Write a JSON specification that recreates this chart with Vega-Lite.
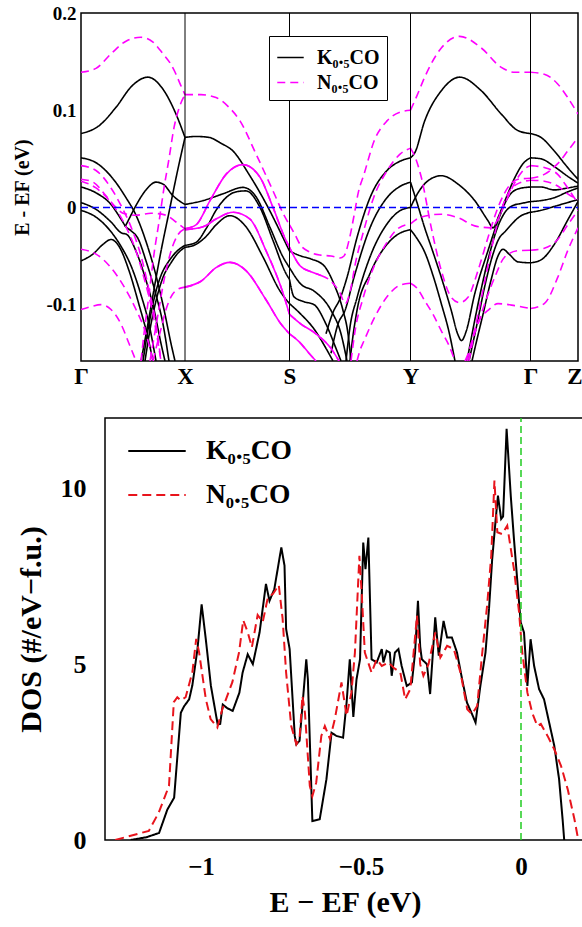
{
"$schema": "https://vega.github.io/schema/vega-lite/v6.json",
"padding": {"left": 12, "top": 3, "right": 0, "bottom": 0},
"spacing": 27,
"resolve": {"scale": {"color": "independent", "strokeDash": "independent"}, "legend": {"color": "independent", "strokeDash": "independent"}},
"config": {
  "font": "Liberation Serif",
  "view": {"stroke": "black", "strokeWidth": 1.5},
  "axis": {"grid": false, "domain": false, "labelFont": "Liberation Serif", "labelFontWeight": "bold", "labelColor": "black", "titleFont": "Liberation Serif", "titleFontWeight": "bold", "titleColor": "black", "tickColor": "black", "tickWidth": 1.5, "tickOpacity": 1, "labelFlush": false, "labelOverlap": false}
},
"datasets": {
"bands": [
{"k":0,"E":0.076,"b":"KGX1","m":"K0.5CO"},{"k":18,"E":0.084,"b":"KGX1","m":"K0.5CO"},{"k":35,"E":0.103,"b":"KGX1","m":"K0.5CO"},{"k":51,"E":0.125,"b":"KGX1","m":"K0.5CO"},{"k":67,"E":0.134,"b":"KGX1","m":"K0.5CO"},{"k":81,"E":0.123,"b":"KGX1","m":"K0.5CO"},{"k":95,"E":0.096,"b":"KGX1","m":"K0.5CO"},{"k":104,"E":0.072,"b":"KGX1","m":"K0.5CO"},
{"k":0,"E":0.051,"b":"KGX2","m":"K0.5CO"},{"k":15,"E":0.046,"b":"KGX2","m":"K0.5CO"},{"k":30,"E":0.032,"b":"KGX2","m":"K0.5CO"},{"k":45,"E":0.010,"b":"KGX2","m":"K0.5CO"},{"k":55,"E":-0.008,"b":"KGX2","m":"K0.5CO"},{"k":65,"E":-0.035,"b":"KGX2","m":"K0.5CO"},{"k":75,"E":-0.07,"b":"KGX2","m":"K0.5CO"},{"k":83,"E":-0.105,"b":"KGX2","m":"K0.5CO"},{"k":90,"E":-0.14,"b":"KGX2","m":"K0.5CO"},{"k":94,"E":-0.158,"b":"KGX2","m":"K0.5CO"},
{"k":0,"E":0.021,"b":"KGX3","m":"K0.5CO"},{"k":15,"E":0.015,"b":"KGX3","m":"K0.5CO"},{"k":30,"E":0.003,"b":"KGX3","m":"K0.5CO"},{"k":40,"E":-0.012,"b":"KGX3","m":"K0.5CO"},{"k":45,"E":-0.020,"b":"KGX3","m":"K0.5CO"},{"k":50,"E":-0.024,"b":"KGX3","m":"K0.5CO"},{"k":57,"E":-0.032,"b":"KGX3","m":"K0.5CO"},{"k":65,"E":-0.055,"b":"KGX3","m":"K0.5CO"},{"k":75,"E":-0.09,"b":"KGX3","m":"K0.5CO"},{"k":82,"E":-0.12,"b":"KGX3","m":"K0.5CO"},{"k":88,"E":-0.158,"b":"KGX3","m":"K0.5CO"},
{"k":0,"E":0.005,"b":"KGX4","m":"K0.5CO"},{"k":15,"E":-0.002,"b":"KGX4","m":"K0.5CO"},{"k":30,"E":-0.015,"b":"KGX4","m":"K0.5CO"},{"k":40,"E":-0.026,"b":"KGX4","m":"K0.5CO"},{"k":46,"E":-0.028,"b":"KGX4","m":"K0.5CO"},{"k":55,"E":-0.045,"b":"KGX4","m":"K0.5CO"},{"k":65,"E":-0.075,"b":"KGX4","m":"K0.5CO"},{"k":73,"E":-0.105,"b":"KGX4","m":"K0.5CO"},{"k":80,"E":-0.14,"b":"KGX4","m":"K0.5CO"},{"k":84,"E":-0.158,"b":"KGX4","m":"K0.5CO"},
{"k":0,"E":-0.003,"b":"KGX5","m":"K0.5CO"},{"k":15,"E":-0.010,"b":"KGX5","m":"K0.5CO"},{"k":30,"E":-0.025,"b":"KGX5","m":"K0.5CO"},{"k":40,"E":-0.040,"b":"KGX5","m":"K0.5CO"},{"k":50,"E":-0.060,"b":"KGX5","m":"K0.5CO"},{"k":60,"E":-0.09,"b":"KGX5","m":"K0.5CO"},{"k":68,"E":-0.12,"b":"KGX5","m":"K0.5CO"},{"k":75,"E":-0.158,"b":"KGX5","m":"K0.5CO"},
{"k":0,"E":-0.055,"b":"KGX6","m":"K0.5CO"},{"k":12,"E":-0.048,"b":"KGX6","m":"K0.5CO"},{"k":22,"E":-0.038,"b":"KGX6","m":"K0.5CO"},{"k":30,"E":-0.033,"b":"KGX6","m":"K0.5CO"},{"k":38,"E":-0.040,"b":"KGX6","m":"K0.5CO"},{"k":48,"E":-0.065,"b":"KGX6","m":"K0.5CO"},{"k":58,"E":-0.10,"b":"KGX6","m":"K0.5CO"},{"k":66,"E":-0.13,"b":"KGX6","m":"K0.5CO"},{"k":72,"E":-0.158,"b":"KGX6","m":"K0.5CO"},
{"k":44,"E":-0.020,"b":"KGX7","m":"K0.5CO"},{"k":48,"E":-0.012,"b":"KGX7","m":"K0.5CO"},{"k":55,"E":0.002,"b":"KGX7","m":"K0.5CO"},{"k":65,"E":0.018,"b":"KGX7","m":"K0.5CO"},{"k":75,"E":0.026,"b":"KGX7","m":"K0.5CO"},{"k":82,"E":0.024,"b":"KGX7","m":"K0.5CO"},{"k":92,"E":0.012,"b":"KGX7","m":"K0.5CO"},{"k":104,"E":0.003,"b":"KGX7","m":"K0.5CO"},
{"k":60,"E":-0.158,"b":"KGX8","m":"K0.5CO"},{"k":66,"E":-0.125,"b":"KGX8","m":"K0.5CO"},{"k":72,"E":-0.09,"b":"KGX8","m":"K0.5CO"},{"k":80,"E":-0.045,"b":"KGX8","m":"K0.5CO"},{"k":88,"E":-0.005,"b":"KGX8","m":"K0.5CO"},{"k":96,"E":0.035,"b":"KGX8","m":"K0.5CO"},{"k":104,"E":0.072,"b":"KGX8","m":"K0.5CO"},
{"k":62,"E":-0.158,"b":"KGX9","m":"K0.5CO"},{"k":68,"E":-0.12,"b":"KGX9","m":"K0.5CO"},{"k":74,"E":-0.09,"b":"KGX9","m":"K0.5CO"},{"k":80,"E":-0.07,"b":"KGX9","m":"K0.5CO"},{"k":88,"E":-0.055,"b":"KGX9","m":"K0.5CO"},{"k":96,"E":-0.045,"b":"KGX9","m":"K0.5CO"},{"k":104,"E":-0.039,"b":"KGX9","m":"K0.5CO"},
{"k":64,"E":-0.158,"b":"KGX10","m":"K0.5CO"},{"k":70,"E":-0.12,"b":"KGX10","m":"K0.5CO"},{"k":76,"E":-0.092,"b":"KGX10","m":"K0.5CO"},{"k":82,"E":-0.072,"b":"KGX10","m":"K0.5CO"},{"k":90,"E":-0.057,"b":"KGX10","m":"K0.5CO"},{"k":97,"E":-0.047,"b":"KGX10","m":"K0.5CO"},{"k":104,"E":-0.041,"b":"KGX10","m":"K0.5CO"},
{"k":0,"E":0.139,"b":"NGX1","m":"N0.5CO"},{"k":15,"E":0.143,"b":"NGX1","m":"N0.5CO"},{"k":30,"E":0.158,"b":"NGX1","m":"N0.5CO"},{"k":45,"E":0.171,"b":"NGX1","m":"N0.5CO"},{"k":60,"E":0.175,"b":"NGX1","m":"N0.5CO"},{"k":72,"E":0.170,"b":"NGX1","m":"N0.5CO"},{"k":82,"E":0.158,"b":"NGX1","m":"N0.5CO"},{"k":90,"E":0.147,"b":"NGX1","m":"N0.5CO"},{"k":95,"E":0.137,"b":"NGX1","m":"N0.5CO"},{"k":100,"E":0.125,"b":"NGX1","m":"N0.5CO"},{"k":104,"E":0.116,"b":"NGX1","m":"N0.5CO"},
{"k":60,"E":-0.158,"b":"NGX2","m":"N0.5CO"},{"k":63,"E":-0.13,"b":"NGX2","m":"N0.5CO"},{"k":68,"E":-0.09,"b":"NGX2","m":"N0.5CO"},{"k":73,"E":-0.048,"b":"NGX2","m":"N0.5CO"},{"k":78,"E":-0.015,"b":"NGX2","m":"N0.5CO"},{"k":83,"E":0.02,"b":"NGX2","m":"N0.5CO"},{"k":88,"E":0.05,"b":"NGX2","m":"N0.5CO"},{"k":93,"E":0.082,"b":"NGX2","m":"N0.5CO"},{"k":98,"E":0.102,"b":"NGX2","m":"N0.5CO"},{"k":104,"E":0.116,"b":"NGX2","m":"N0.5CO"},
{"k":0,"E":0.043,"b":"NGX3","m":"N0.5CO"},{"k":15,"E":0.038,"b":"NGX3","m":"N0.5CO"},{"k":30,"E":0.020,"b":"NGX3","m":"N0.5CO"},{"k":40,"E":0.002,"b":"NGX3","m":"N0.5CO"},{"k":50,"E":-0.02,"b":"NGX3","m":"N0.5CO"},{"k":60,"E":-0.05,"b":"NGX3","m":"N0.5CO"},{"k":68,"E":-0.085,"b":"NGX3","m":"N0.5CO"},{"k":75,"E":-0.12,"b":"NGX3","m":"N0.5CO"},{"k":80,"E":-0.158,"b":"NGX3","m":"N0.5CO"},
{"k":0,"E":0.029,"b":"NGX4","m":"N0.5CO"},{"k":12,"E":0.026,"b":"NGX4","m":"N0.5CO"},{"k":25,"E":0.012,"b":"NGX4","m":"N0.5CO"},{"k":35,"E":0.0,"b":"NGX4","m":"N0.5CO"},{"k":42,"E":-0.006,"b":"NGX4","m":"N0.5CO"},{"k":55,"E":-0.008,"b":"NGX4","m":"N0.5CO"},{"k":70,"E":-0.006,"b":"NGX4","m":"N0.5CO"},{"k":85,"E":-0.008,"b":"NGX4","m":"N0.5CO"},{"k":95,"E":-0.015,"b":"NGX4","m":"N0.5CO"},{"k":104,"E":-0.022,"b":"NGX4","m":"N0.5CO"},
{"k":0,"E":0.027,"b":"NGX5","m":"N0.5CO"},{"k":15,"E":0.020,"b":"NGX5","m":"N0.5CO"},{"k":30,"E":0.005,"b":"NGX5","m":"N0.5CO"},{"k":45,"E":-0.02,"b":"NGX5","m":"N0.5CO"},{"k":55,"E":-0.045,"b":"NGX5","m":"N0.5CO"},{"k":65,"E":-0.08,"b":"NGX5","m":"N0.5CO"},{"k":72,"E":-0.11,"b":"NGX5","m":"N0.5CO"},{"k":80,"E":-0.158,"b":"NGX5","m":"N0.5CO"},
{"k":0,"E":-0.043,"b":"NGX6","m":"N0.5CO"},{"k":15,"E":-0.048,"b":"NGX6","m":"N0.5CO"},{"k":30,"E":-0.062,"b":"NGX6","m":"N0.5CO"},{"k":45,"E":-0.085,"b":"NGX6","m":"N0.5CO"},{"k":55,"E":-0.105,"b":"NGX6","m":"N0.5CO"},{"k":65,"E":-0.13,"b":"NGX6","m":"N0.5CO"},{"k":72,"E":-0.158,"b":"NGX6","m":"N0.5CO"},
{"k":0,"E":-0.105,"b":"NGX7","m":"N0.5CO"},{"k":10,"E":-0.102,"b":"NGX7","m":"N0.5CO"},{"k":20,"E":-0.100,"b":"NGX7","m":"N0.5CO"},{"k":30,"E":-0.105,"b":"NGX7","m":"N0.5CO"},{"k":40,"E":-0.12,"b":"NGX7","m":"N0.5CO"},{"k":48,"E":-0.14,"b":"NGX7","m":"N0.5CO"},{"k":55,"E":-0.158,"b":"NGX7","m":"N0.5CO"},
{"k":69,"E":-0.158,"b":"NGX8","m":"N0.5CO"},{"k":72,"E":-0.14,"b":"NGX8","m":"N0.5CO"},{"k":77,"E":-0.11,"b":"NGX8","m":"N0.5CO"},{"k":83,"E":-0.075,"b":"NGX8","m":"N0.5CO"},{"k":90,"E":-0.045,"b":"NGX8","m":"N0.5CO"},{"k":97,"E":-0.028,"b":"NGX8","m":"N0.5CO"},{"k":104,"E":-0.022,"b":"NGX8","m":"N0.5CO"},
{"k":72,"E":-0.158,"b":"NGX9","m":"N0.5CO"},{"k":75,"E":-0.145,"b":"NGX9","m":"N0.5CO"},{"k":80,"E":-0.125,"b":"NGX9","m":"N0.5CO"},{"k":85,"E":-0.105,"b":"NGX9","m":"N0.5CO"},{"k":90,"E":-0.092,"b":"NGX9","m":"N0.5CO"},{"k":97,"E":-0.084,"b":"NGX9","m":"N0.5CO"},{"k":104,"E":-0.082,"b":"NGX9","m":"N0.5CO"},
{"k":104,"E":0.072,"b":"KXS1","m":"K0.5CO"},{"k":115,"E":0.073,"b":"KXS1","m":"K0.5CO"},{"k":128,"E":0.072,"b":"KXS1","m":"K0.5CO"},{"k":140,"E":0.066,"b":"KXS1","m":"K0.5CO"},{"k":152,"E":0.058,"b":"KXS1","m":"K0.5CO"},{"k":168,"E":0.034,"b":"KXS1","m":"K0.5CO"},{"k":185,"E":0.004,"b":"KXS1","m":"K0.5CO"},{"k":202,"E":-0.031,"b":"KXS1","m":"K0.5CO"},{"k":208.5,"E":-0.045,"b":"KXS1","m":"K0.5CO"},
{"k":104,"E":0.003,"b":"KXS2","m":"K0.5CO"},{"k":122,"E":0.007,"b":"KXS2","m":"K0.5CO"},{"k":142,"E":0.014,"b":"KXS2","m":"K0.5CO"},{"k":162,"E":0.0206,"b":"KXS2","m":"K0.5CO"},{"k":175,"E":0.011,"b":"KXS2","m":"K0.5CO"},{"k":189,"E":-0.0206,"b":"KXS2","m":"K0.5CO"},{"k":202,"E":-0.051,"b":"KXS2","m":"K0.5CO"},{"k":208.5,"E":-0.062,"b":"KXS2","m":"K0.5CO"},
{"k":104,"E":-0.039,"b":"KXS3","m":"K0.5CO"},{"k":115,"E":-0.036,"b":"KXS3","m":"K0.5CO"},{"k":125,"E":-0.022,"b":"KXS3","m":"K0.5CO"},{"k":135,"E":-0.003,"b":"KXS3","m":"K0.5CO"},{"k":145,"E":0.010,"b":"KXS3","m":"K0.5CO"},{"k":155,"E":0.016,"b":"KXS3","m":"K0.5CO"},{"k":165,"E":0.017,"b":"KXS3","m":"K0.5CO"},{"k":179,"E":0.0,"b":"KXS3","m":"K0.5CO"},{"k":192,"E":-0.034,"b":"KXS3","m":"K0.5CO"},{"k":205,"E":-0.068,"b":"KXS3","m":"K0.5CO"},{"k":208.5,"E":-0.074,"b":"KXS3","m":"K0.5CO"},
{"k":104,"E":-0.041,"b":"KXS4","m":"K0.5CO"},{"k":115,"E":-0.038,"b":"KXS4","m":"K0.5CO"},{"k":125,"E":-0.030,"b":"KXS4","m":"K0.5CO"},{"k":135,"E":-0.018,"b":"KXS4","m":"K0.5CO"},{"k":149,"E":-0.0085,"b":"KXS4","m":"K0.5CO"},{"k":165,"E":-0.02,"b":"KXS4","m":"K0.5CO"},{"k":182,"E":-0.051,"b":"KXS4","m":"K0.5CO"},{"k":199,"E":-0.086,"b":"KXS4","m":"K0.5CO"},{"k":208.5,"E":-0.099,"b":"KXS4","m":"K0.5CO"},
{"k":104,"E":0.116,"b":"NXS1","m":"N0.5CO"},{"k":120,"E":0.116,"b":"NXS1","m":"N0.5CO"},{"k":135,"E":0.113,"b":"NXS1","m":"N0.5CO"},{"k":147,"E":0.104,"b":"NXS1","m":"N0.5CO"},{"k":159,"E":0.089,"b":"NXS1","m":"N0.5CO"},{"k":175,"E":0.055,"b":"NXS1","m":"N0.5CO"},{"k":192,"E":0.017,"b":"NXS1","m":"N0.5CO"},{"k":203,"E":-0.008,"b":"NXS1","m":"N0.5CO"},{"k":208.5,"E":-0.018,"b":"NXS1","m":"N0.5CO"},
{"k":104,"E":-0.022,"b":"NXSa_s","m":"N0.5CO"},{"k":115,"E":-0.018,"b":"NXSa_s","m":"N0.5CO"},{"k":129,"E":0.007,"b":"NXSa_s","m":"N0.5CO"},{"k":145,"E":0.034,"b":"NXSa_s","m":"N0.5CO"},{"k":162,"E":0.044,"b":"NXSa_s","m":"N0.5CO"},{"k":179,"E":0.031,"b":"NXSa_s","m":"N0.5CO"},{"k":192,"E":0.0,"b":"NXSa_s","m":"N0.5CO"},{"k":205,"E":-0.034,"b":"NXSa_s","m":"N0.5CO"},{"k":208.5,"E":-0.041,"b":"NXSa_s","m":"N0.5CO"},
{"k":104,"E":-0.023,"b":"NXSb_s","m":"N0.5CO"},{"k":122,"E":-0.020,"b":"NXSb_s","m":"N0.5CO"},{"k":135,"E":-0.012,"b":"NXSb_s","m":"N0.5CO"},{"k":152,"E":-0.005,"b":"NXSb_s","m":"N0.5CO"},{"k":169,"E":-0.012,"b":"NXSb_s","m":"N0.5CO"},{"k":185,"E":-0.0445,"b":"NXSb_s","m":"N0.5CO"},{"k":202,"E":-0.088,"b":"NXSb_s","m":"N0.5CO"},{"k":208.5,"E":-0.11,"b":"NXSb_s","m":"N0.5CO"},
{"k":104,"E":-0.082,"b":"NXSc_s","m":"N0.5CO"},{"k":120,"E":-0.076,"b":"NXSc_s","m":"N0.5CO"},{"k":135,"E":-0.062,"b":"NXSc_s","m":"N0.5CO"},{"k":149,"E":-0.0565,"b":"NXSc_s","m":"N0.5CO"},{"k":165,"E":-0.065,"b":"NXSc_s","m":"N0.5CO"},{"k":185,"E":-0.095,"b":"NXSc_s","m":"N0.5CO"},{"k":200,"E":-0.12,"b":"NXSc_s","m":"N0.5CO"},{"k":208.5,"E":-0.13,"b":"NXSc_s","m":"N0.5CO"},
{"k":208.5,"E":-0.045,"b":"KSY1","m":"K0.5CO"},{"k":220,"E":-0.050,"b":"KSY1","m":"K0.5CO"},{"k":230,"E":-0.053,"b":"KSY1","m":"K0.5CO"},{"k":243,"E":-0.06,"b":"KSY1","m":"K0.5CO"},{"k":253,"E":-0.079,"b":"KSY1","m":"K0.5CO"},{"k":262,"E":-0.106,"b":"KSY1","m":"K0.5CO"},{"k":267,"E":-0.13,"b":"KSY1","m":"K0.5CO"},{"k":270,"E":-0.158,"b":"KSY1","m":"K0.5CO"},
{"k":208.5,"E":-0.062,"b":"KSY2","m":"K0.5CO"},{"k":220,"E":-0.079,"b":"KSY2","m":"K0.5CO"},{"k":233,"E":-0.086,"b":"KSY2","m":"K0.5CO"},{"k":250,"E":-0.106,"b":"KSY2","m":"K0.5CO"},{"k":260,"E":-0.13,"b":"KSY2","m":"K0.5CO"},{"k":266,"E":-0.158,"b":"KSY2","m":"K0.5CO"},
{"k":208.5,"E":-0.074,"b":"KSY3","m":"K0.5CO"},{"k":213,"E":-0.092,"b":"KSY3","m":"K0.5CO"},{"k":223,"E":-0.097,"b":"KSY3","m":"K0.5CO"},{"k":233,"E":-0.100,"b":"KSY3","m":"K0.5CO"},{"k":245,"E":-0.12,"b":"KSY3","m":"K0.5CO"},{"k":255,"E":-0.145,"b":"KSY3","m":"K0.5CO"},{"k":260,"E":-0.158,"b":"KSY3","m":"K0.5CO"},
{"k":208.5,"E":-0.099,"b":"KSY4","m":"K0.5CO"},{"k":220,"E":-0.11,"b":"KSY4","m":"K0.5CO"},{"k":233,"E":-0.125,"b":"KSY4","m":"K0.5CO"},{"k":245,"E":-0.145,"b":"KSY4","m":"K0.5CO"},{"k":252,"E":-0.158,"b":"KSY4","m":"K0.5CO"},
{"k":245,"E":-0.13,"b":"KSY5","m":"K0.5CO"},{"k":252,"E":-0.108,"b":"KSY5","m":"K0.5CO"},{"k":259,"E":-0.094,"b":"KSY5","m":"K0.5CO"},{"k":266,"E":-0.072,"b":"KSY5","m":"K0.5CO"},{"k":276,"E":-0.031,"b":"KSY5","m":"K0.5CO"},{"k":289,"E":0.010,"b":"KSY5","m":"K0.5CO"},{"k":306,"E":0.038,"b":"KSY5","m":"K0.5CO"},{"k":318,"E":0.047,"b":"KSY5","m":"K0.5CO"},{"k":329.5,"E":0.051,"b":"KSY5","m":"K0.5CO"},
{"k":250,"E":-0.15,"b":"KSY6","m":"K0.5CO"},{"k":257,"E":-0.12,"b":"KSY6","m":"K0.5CO"},{"k":264,"E":-0.106,"b":"KSY6","m":"K0.5CO"},{"k":273,"E":-0.072,"b":"KSY6","m":"K0.5CO"},{"k":289,"E":-0.021,"b":"KSY6","m":"K0.5CO"},{"k":306,"E":0.010,"b":"KSY6","m":"K0.5CO"},{"k":318,"E":0.021,"b":"KSY6","m":"K0.5CO"},{"k":329.5,"E":0.026,"b":"KSY6","m":"K0.5CO"},
{"k":265,"E":-0.158,"b":"KSY7","m":"K0.5CO"},{"k":269,"E":-0.123,"b":"KSY7","m":"K0.5CO"},{"k":276,"E":-0.093,"b":"KSY7","m":"K0.5CO"},{"k":289,"E":-0.051,"b":"KSY7","m":"K0.5CO"},{"k":306,"E":-0.017,"b":"KSY7","m":"K0.5CO"},{"k":318,"E":-0.004,"b":"KSY7","m":"K0.5CO"},{"k":329.5,"E":0.0,"b":"KSY7","m":"K0.5CO"},
{"k":269,"E":-0.158,"b":"KSY8","m":"K0.5CO"},{"k":271,"E":-0.14,"b":"KSY8","m":"K0.5CO"},{"k":276,"E":-0.106,"b":"KSY8","m":"K0.5CO"},{"k":289,"E":-0.068,"b":"KSY8","m":"K0.5CO"},{"k":306,"E":-0.038,"b":"KSY8","m":"K0.5CO"},{"k":318,"E":-0.027,"b":"KSY8","m":"K0.5CO"},{"k":329.5,"E":-0.023,"b":"KSY8","m":"K0.5CO"},
{"k":208.5,"E":-0.018,"b":"NSY1","m":"N0.5CO"},{"k":214,"E":-0.028,"b":"NSY1","m":"N0.5CO"},{"k":219,"E":-0.038,"b":"NSY1","m":"N0.5CO"},{"k":229,"E":-0.046,"b":"NSY1","m":"N0.5CO"},{"k":239,"E":-0.049,"b":"NSY1","m":"N0.5CO"},{"k":250,"E":-0.050,"b":"NSY1","m":"N0.5CO"},{"k":259,"E":-0.052,"b":"NSY1","m":"N0.5CO"},{"k":263,"E":-0.050,"b":"NSY1","m":"N0.5CO"},{"k":268,"E":-0.034,"b":"NSY1","m":"N0.5CO"},{"k":274,"E":-0.003,"b":"NSY1","m":"N0.5CO"},{"k":277,"E":0.014,"b":"NSY1","m":"N0.5CO"},{"k":283,"E":0.034,"b":"NSY1","m":"N0.5CO"},{"k":293,"E":0.068,"b":"NSY1","m":"N0.5CO"},{"k":306,"E":0.089,"b":"NSY1","m":"N0.5CO"},{"k":319,"E":0.098,"b":"NSY1","m":"N0.5CO"},{"k":329.5,"E":0.100,"b":"NSY1","m":"N0.5CO"},
{"k":208.5,"E":-0.041,"b":"NSYa_s","m":"N0.5CO"},{"k":219,"E":-0.06,"b":"NSYa_s","m":"N0.5CO"},{"k":232,"E":-0.067,"b":"NSYa_s","m":"N0.5CO"},{"k":240,"E":-0.07,"b":"NSYa_s","m":"N0.5CO"},
{"k":240,"E":-0.07,"b":"NSY2","m":"N0.5CO"},{"k":249,"E":-0.075,"b":"NSY2","m":"N0.5CO"},{"k":259,"E":-0.088,"b":"NSY2","m":"N0.5CO"},{"k":264.3,"E":-0.099,"b":"NSY2","m":"N0.5CO"},{"k":269.3,"E":-0.0856,"b":"NSY2","m":"N0.5CO"},{"k":274.3,"E":-0.058,"b":"NSY2","m":"N0.5CO"},{"k":282.7,"E":-0.024,"b":"NSY2","m":"N0.5CO"},{"k":292.7,"E":0.0103,"b":"NSY2","m":"N0.5CO"},{"k":306,"E":0.0377,"b":"NSY2","m":"N0.5CO"},{"k":319.3,"E":0.055,"b":"NSY2","m":"N0.5CO"},{"k":329.5,"E":0.061,"b":"NSY2","m":"N0.5CO"},
{"k":208.5,"E":-0.11,"b":"NSYb_s","m":"N0.5CO"},{"k":220,"E":-0.12,"b":"NSYb_s","m":"N0.5CO"},{"k":235,"E":-0.13,"b":"NSYb_s","m":"N0.5CO"},{"k":250,"E":-0.145,"b":"NSYb_s","m":"N0.5CO"},{"k":258,"E":-0.158,"b":"NSYb_s","m":"N0.5CO"},
{"k":208.5,"E":-0.13,"b":"NSYc_s","m":"N0.5CO"},{"k":218,"E":-0.138,"b":"NSYc_s","m":"N0.5CO"},{"k":228,"E":-0.15,"b":"NSYc_s","m":"N0.5CO"},{"k":235,"E":-0.158,"b":"NSYc_s","m":"N0.5CO"},
{"k":270,"E":-0.158,"b":"NSY4","m":"N0.5CO"},{"k":274.7,"E":-0.123,"b":"NSY4","m":"N0.5CO"},{"k":281.3,"E":-0.096,"b":"NSY4","m":"N0.5CO"},{"k":291.3,"E":-0.065,"b":"NSY4","m":"N0.5CO"},{"k":304.7,"E":-0.038,"b":"NSY4","m":"N0.5CO"},{"k":318,"E":-0.021,"b":"NSY4","m":"N0.5CO"},{"k":329.5,"E":-0.017,"b":"NSY4","m":"N0.5CO"},
{"k":276,"E":-0.158,"b":"NSY5","m":"N0.5CO"},{"k":279,"E":-0.147,"b":"NSY5","m":"N0.5CO"},{"k":282.7,"E":-0.138,"b":"NSY5","m":"N0.5CO"},{"k":292.7,"E":-0.115,"b":"NSY5","m":"N0.5CO"},{"k":306,"E":-0.092,"b":"NSY5","m":"N0.5CO"},{"k":319,"E":-0.080,"b":"NSY5","m":"N0.5CO"},{"k":329.5,"E":-0.078,"b":"NSY5","m":"N0.5CO"},
{"k":329.5,"E":0.051,"b":"KYG1","m":"K0.5CO"},{"k":333.7,"E":0.056,"b":"KYG1","m":"K0.5CO"},{"k":343.7,"E":0.089,"b":"KYG1","m":"K0.5CO"},{"k":360.3,"E":0.12,"b":"KYG1","m":"K0.5CO"},{"k":378.7,"E":0.134,"b":"KYG1","m":"K0.5CO"},{"k":400.3,"E":0.12,"b":"KYG1","m":"K0.5CO"},{"k":420.3,"E":0.096,"b":"KYG1","m":"K0.5CO"},{"k":437,"E":0.079,"b":"KYG1","m":"K0.5CO"},{"k":449.5,"E":0.076,"b":"KYG1","m":"K0.5CO"},
{"k":329.5,"E":0.0,"b":"KYG2","m":"K0.5CO"},{"k":337,"E":0.015,"b":"KYG2","m":"K0.5CO"},{"k":347,"E":0.0274,"b":"KYG2","m":"K0.5CO"},{"k":360.3,"E":0.0326,"b":"KYG2","m":"K0.5CO"},{"k":377,"E":0.024,"b":"KYG2","m":"K0.5CO"},{"k":393.7,"E":0.007,"b":"KYG2","m":"K0.5CO"},{"k":407,"E":-0.0137,"b":"KYG2","m":"K0.5CO"},{"k":412,"E":-0.021,"b":"KYG2","m":"K0.5CO"},{"k":418,"E":-0.008,"b":"KYG2","m":"K0.5CO"},{"k":424,"E":0.007,"b":"KYG2","m":"K0.5CO"},{"k":434,"E":0.031,"b":"KYG2","m":"K0.5CO"},{"k":442,"E":0.045,"b":"KYG2","m":"K0.5CO"},{"k":449.5,"E":0.051,"b":"KYG2","m":"K0.5CO"},
{"k":329.5,"E":0.026,"b":"KYG3","m":"K0.5CO"},{"k":336,"E":0.005,"b":"KYG3","m":"K0.5CO"},{"k":343.7,"E":-0.021,"b":"KYG3","m":"K0.5CO"},{"k":352,"E":-0.046,"b":"KYG3","m":"K0.5CO"},{"k":360.3,"E":-0.072,"b":"KYG3","m":"K0.5CO"},{"k":370,"E":-0.105,"b":"KYG3","m":"K0.5CO"},{"k":377,"E":-0.131,"b":"KYG3","m":"K0.5CO"},{"k":380.5,"E":-0.137,"b":"KYG3","m":"K0.5CO"},{"k":385,"E":-0.128,"b":"KYG3","m":"K0.5CO"},{"k":393.7,"E":-0.089,"b":"KYG3","m":"K0.5CO"},{"k":407,"E":-0.0445,"b":"KYG3","m":"K0.5CO"},{"k":417,"E":-0.0137,"b":"KYG3","m":"K0.5CO"},{"k":427,"E":0.0103,"b":"KYG3","m":"K0.5CO"},{"k":437,"E":0.019,"b":"KYG3","m":"K0.5CO"},{"k":449.5,"E":0.021,"b":"KYG3","m":"K0.5CO"},
{"k":329.5,"E":-0.023,"b":"KYG4","m":"K0.5CO"},{"k":336,"E":-0.032,"b":"KYG4","m":"K0.5CO"},{"k":343.7,"E":-0.046,"b":"KYG4","m":"K0.5CO"},{"k":352,"E":-0.07,"b":"KYG4","m":"K0.5CO"},{"k":360.3,"E":-0.099,"b":"KYG4","m":"K0.5CO"},{"k":368,"E":-0.128,"b":"KYG4","m":"K0.5CO"},{"k":374,"E":-0.158,"b":"KYG4","m":"K0.5CO"},
{"k":386,"E":-0.158,"b":"KYG5","m":"K0.5CO"},{"k":393,"E":-0.12,"b":"KYG5","m":"K0.5CO"},{"k":400,"E":-0.085,"b":"KYG5","m":"K0.5CO"},{"k":408,"E":-0.05,"b":"KYG5","m":"K0.5CO"},{"k":416,"E":-0.022,"b":"KYG5","m":"K0.5CO"},{"k":424,"E":-0.005,"b":"KYG5","m":"K0.5CO"},{"k":432,"E":0.002,"b":"KYG5","m":"K0.5CO"},{"k":440,"E":0.004,"b":"KYG5","m":"K0.5CO"},{"k":449.5,"E":0.006,"b":"KYG5","m":"K0.5CO"},
{"k":388,"E":-0.158,"b":"KYG6","m":"K0.5CO"},{"k":396,"E":-0.12,"b":"KYG6","m":"K0.5CO"},{"k":404,"E":-0.08,"b":"KYG6","m":"K0.5CO"},{"k":412,"E":-0.048,"b":"KYG6","m":"K0.5CO"},{"k":418,"E":-0.032,"b":"KYG6","m":"K0.5CO"},{"k":424,"E":-0.025,"b":"KYG6","m":"K0.5CO"},{"k":430,"E":-0.018,"b":"KYG6","m":"K0.5CO"},{"k":438,"E":-0.01,"b":"KYG6","m":"K0.5CO"},{"k":449.5,"E":-0.005,"b":"KYG6","m":"K0.5CO"},
{"k":391,"E":-0.158,"b":"KYG7","m":"K0.5CO"},{"k":395,"E":-0.14,"b":"KYG7","m":"K0.5CO"},{"k":402,"E":-0.11,"b":"KYG7","m":"K0.5CO"},{"k":410,"E":-0.075,"b":"KYG7","m":"K0.5CO"},{"k":417,"E":-0.05,"b":"KYG7","m":"K0.5CO"},{"k":422,"E":-0.043,"b":"KYG7","m":"K0.5CO"},{"k":428,"E":-0.048,"b":"KYG7","m":"K0.5CO"},{"k":437,"E":-0.056,"b":"KYG7","m":"K0.5CO"},{"k":449.5,"E":-0.057,"b":"KYG7","m":"K0.5CO"},
{"k":329.5,"E":0.100,"b":"NYG1","m":"N0.5CO"},{"k":336,"E":0.115,"b":"NYG1","m":"N0.5CO"},{"k":343.7,"E":0.134,"b":"NYG1","m":"N0.5CO"},{"k":360.3,"E":0.164,"b":"NYG1","m":"N0.5CO"},{"k":378.7,"E":0.176,"b":"NYG1","m":"N0.5CO"},{"k":400.3,"E":0.164,"b":"NYG1","m":"N0.5CO"},{"k":420.3,"E":0.144,"b":"NYG1","m":"N0.5CO"},{"k":433.7,"E":0.139,"b":"NYG1","m":"N0.5CO"},{"k":449.5,"E":0.139,"b":"NYG1","m":"N0.5CO"},
{"k":329.5,"E":0.061,"b":"NYG2","m":"N0.5CO"},{"k":334,"E":0.052,"b":"NYG2","m":"N0.5CO"},{"k":340.3,"E":0.031,"b":"NYG2","m":"N0.5CO"},{"k":350.3,"E":-0.021,"b":"NYG2","m":"N0.5CO"},{"k":360.3,"E":-0.065,"b":"NYG2","m":"N0.5CO"},{"k":370.3,"E":-0.0925,"b":"NYG2","m":"N0.5CO"},{"k":378.7,"E":-0.098,"b":"NYG2","m":"N0.5CO"},{"k":387,"E":-0.0925,"b":"NYG2","m":"N0.5CO"},{"k":397,"E":-0.065,"b":"NYG2","m":"N0.5CO"},{"k":407,"E":-0.031,"b":"NYG2","m":"N0.5CO"},{"k":417,"E":0.0,"b":"NYG2","m":"N0.5CO"},{"k":427,"E":0.0206,"b":"NYG2","m":"N0.5CO"},{"k":437,"E":0.029,"b":"NYG2","m":"N0.5CO"},{"k":449.5,"E":0.030,"b":"NYG2","m":"N0.5CO"},
{"k":329.5,"E":-0.017,"b":"NYG3","m":"N0.5CO"},{"k":340,"E":-0.010,"b":"NYG3","m":"N0.5CO"},{"k":360.3,"E":-0.007,"b":"NYG3","m":"N0.5CO"},{"k":378,"E":-0.011,"b":"NYG3","m":"N0.5CO"},{"k":393.7,"E":-0.019,"b":"NYG3","m":"N0.5CO"},{"k":410.3,"E":-0.021,"b":"NYG3","m":"N0.5CO"},{"k":417,"E":-0.012,"b":"NYG3","m":"N0.5CO"},{"k":423.7,"E":0.0034,"b":"NYG3","m":"N0.5CO"},{"k":437,"E":0.031,"b":"NYG3","m":"N0.5CO"},{"k":443,"E":0.039,"b":"NYG3","m":"N0.5CO"},{"k":449.5,"E":0.043,"b":"NYG3","m":"N0.5CO"},
{"k":329.5,"E":-0.078,"b":"NYG4","m":"N0.5CO"},{"k":336,"E":-0.083,"b":"NYG4","m":"N0.5CO"},{"k":343.7,"E":-0.096,"b":"NYG4","m":"N0.5CO"},{"k":352,"E":-0.11,"b":"NYG4","m":"N0.5CO"},{"k":360.3,"E":-0.127,"b":"NYG4","m":"N0.5CO"},{"k":368,"E":-0.142,"b":"NYG4","m":"N0.5CO"},{"k":374,"E":-0.158,"b":"NYG4","m":"N0.5CO"},
{"k":384,"E":-0.158,"b":"NYG5","m":"N0.5CO"},{"k":389,"E":-0.145,"b":"NYG5","m":"N0.5CO"},{"k":393.7,"E":-0.127,"b":"NYG5","m":"N0.5CO"},{"k":400,"E":-0.113,"b":"NYG5","m":"N0.5CO"},{"k":407,"E":-0.106,"b":"NYG5","m":"N0.5CO"},{"k":417,"E":-0.099,"b":"NYG5","m":"N0.5CO"},{"k":433.7,"E":-0.101,"b":"NYG5","m":"N0.5CO"},{"k":449.5,"E":-0.104,"b":"NYG5","m":"N0.5CO"},
{"k":386,"E":-0.158,"b":"NYG6","m":"N0.5CO"},{"k":390.3,"E":-0.14,"b":"NYG6","m":"N0.5CO"},{"k":397,"E":-0.12,"b":"NYG6","m":"N0.5CO"},{"k":403.7,"E":-0.099,"b":"NYG6","m":"N0.5CO"},{"k":413.7,"E":-0.072,"b":"NYG6","m":"N0.5CO"},{"k":423.7,"E":-0.051,"b":"NYG6","m":"N0.5CO"},{"k":437,"E":-0.0445,"b":"NYG6","m":"N0.5CO"},{"k":449.5,"E":-0.044,"b":"NYG6","m":"N0.5CO"},
{"k":388,"E":-0.158,"b":"NYG7","m":"N0.5CO"},{"k":395,"E":-0.12,"b":"NYG7","m":"N0.5CO"},{"k":402,"E":-0.085,"b":"NYG7","m":"N0.5CO"},{"k":410,"E":-0.045,"b":"NYG7","m":"N0.5CO"},{"k":418,"E":-0.01,"b":"NYG7","m":"N0.5CO"},{"k":426,"E":0.012,"b":"NYG7","m":"N0.5CO"},{"k":436,"E":0.024,"b":"NYG7","m":"N0.5CO"},{"k":449.5,"E":0.028,"b":"NYG7","m":"N0.5CO"},
{"k":449.5,"E":0.076,"b":"KGZ1","m":"K0.5CO"},{"k":460,"E":0.072,"b":"KGZ1","m":"K0.5CO"},{"k":473.3,"E":0.058,"b":"KGZ1","m":"K0.5CO"},{"k":486.7,"E":0.041,"b":"KGZ1","m":"K0.5CO"},{"k":497,"E":0.029,"b":"KGZ1","m":"K0.5CO"},
{"k":449.5,"E":0.051,"b":"KGZ2","m":"K0.5CO"},{"k":460,"E":0.050,"b":"KGZ2","m":"K0.5CO"},{"k":473.3,"E":0.042,"b":"KGZ2","m":"K0.5CO"},{"k":486.7,"E":0.032,"b":"KGZ2","m":"K0.5CO"},{"k":497,"E":0.025,"b":"KGZ2","m":"K0.5CO"},
{"k":449.5,"E":0.021,"b":"KGZ3","m":"K0.5CO"},{"k":460,"E":0.021,"b":"KGZ3","m":"K0.5CO"},{"k":473.3,"E":0.018,"b":"KGZ3","m":"K0.5CO"},{"k":486.7,"E":0.02,"b":"KGZ3","m":"K0.5CO"},{"k":497,"E":0.022,"b":"KGZ3","m":"K0.5CO"},
{"k":449.5,"E":0.006,"b":"KGZ4","m":"K0.5CO"},{"k":460,"E":0.007,"b":"KGZ4","m":"K0.5CO"},{"k":473.3,"E":0.010,"b":"KGZ4","m":"K0.5CO"},{"k":486.7,"E":0.016,"b":"KGZ4","m":"K0.5CO"},{"k":497,"E":0.020,"b":"KGZ4","m":"K0.5CO"},
{"k":449.5,"E":-0.005,"b":"KGZ5","m":"K0.5CO"},{"k":460,"E":-0.003,"b":"KGZ5","m":"K0.5CO"},{"k":473.3,"E":0.001,"b":"KGZ5","m":"K0.5CO"},{"k":486.7,"E":0.005,"b":"KGZ5","m":"K0.5CO"},{"k":497,"E":0.008,"b":"KGZ5","m":"K0.5CO"},
{"k":449.5,"E":-0.057,"b":"KGZ6","m":"K0.5CO"},{"k":460,"E":-0.054,"b":"KGZ6","m":"K0.5CO"},{"k":473.3,"E":-0.038,"b":"KGZ6","m":"K0.5CO"},{"k":486.7,"E":-0.013,"b":"KGZ6","m":"K0.5CO"},{"k":497,"E":0.006,"b":"KGZ6","m":"K0.5CO"},
{"k":449.5,"E":0.139,"b":"NGZ1","m":"N0.5CO"},{"k":463.3,"E":0.137,"b":"NGZ1","m":"N0.5CO"},{"k":476.7,"E":0.127,"b":"NGZ1","m":"N0.5CO"},{"k":486.7,"E":0.113,"b":"NGZ1","m":"N0.5CO"},{"k":497,"E":0.096,"b":"NGZ1","m":"N0.5CO"},
{"k":449.5,"E":0.043,"b":"NGZ2","m":"N0.5CO"},{"k":463.3,"E":0.041,"b":"NGZ2","m":"N0.5CO"},{"k":476.7,"E":0.034,"b":"NGZ2","m":"N0.5CO"},{"k":486.7,"E":0.02,"b":"NGZ2","m":"N0.5CO"},{"k":497,"E":0.004,"b":"NGZ2","m":"N0.5CO"},
{"k":449.5,"E":0.030,"b":"NGZ3","m":"N0.5CO"},{"k":463.3,"E":0.034,"b":"NGZ3","m":"N0.5CO"},{"k":476.7,"E":0.045,"b":"NGZ3","m":"N0.5CO"},{"k":486.7,"E":0.058,"b":"NGZ3","m":"N0.5CO"},{"k":497,"E":0.072,"b":"NGZ3","m":"N0.5CO"},
{"k":449.5,"E":-0.044,"b":"NGZ4","m":"N0.5CO"},{"k":463.3,"E":-0.042,"b":"NGZ4","m":"N0.5CO"},{"k":476.7,"E":-0.033,"b":"NGZ4","m":"N0.5CO"},{"k":486.7,"E":-0.018,"b":"NGZ4","m":"N0.5CO"},{"k":497,"E":-0.003,"b":"NGZ4","m":"N0.5CO"},
{"k":449.5,"E":-0.104,"b":"NGZ5","m":"N0.5CO"},{"k":463.3,"E":-0.099,"b":"NGZ5","m":"N0.5CO"},{"k":476.7,"E":-0.072,"b":"NGZ5","m":"N0.5CO"},{"k":486.7,"E":-0.0445,"b":"NGZ5","m":"N0.5CO"},{"k":497,"E":-0.021,"b":"NGZ5","m":"N0.5CO"},
{"k":449.5,"E":0.028,"b":"NGZ6","m":"N0.5CO"},{"k":463.3,"E":0.027,"b":"NGZ6","m":"N0.5CO"},{"k":476.7,"E":0.022,"b":"NGZ6","m":"N0.5CO"},{"k":486.7,"E":0.014,"b":"NGZ6","m":"N0.5CO"},{"k":497,"E":0.008,"b":"NGZ6","m":"N0.5CO"}
],
"dos": [
{"E":-1.22,"D":0.0,"m":"K0.5CO"},{"E":-1.17,"D":0.08,"m":"K0.5CO"},{"E":-1.131,"D":0.2,"m":"K0.5CO"},{"E":-1.105,"D":0.87,"m":"K0.5CO"},{"E":-1.084,"D":1.2,"m":"K0.5CO"},{"E":-1.063,"D":3.62,"m":"K0.5CO"},{"E":-1.053,"D":3.8,"m":"K0.5CO"},{"E":-1.037,"D":4.0,"m":"K0.5CO"},{"E":-1.027,"D":4.4,"m":"K0.5CO"},{"E":-1.011,"D":5.43,"m":"K0.5CO"},{"E":-0.998,"D":6.7,"m":"K0.5CO"},{"E":-0.985,"D":5.71,"m":"K0.5CO"},{"E":-0.969,"D":4.38,"m":"K0.5CO"},{"E":-0.948,"D":3.29,"m":"K0.5CO"},{"E":-0.94,"D":3.3,"m":"K0.5CO"},{"E":-0.932,"D":3.85,"m":"K0.5CO"},{"E":-0.918,"D":3.75,"m":"K0.5CO"},{"E":-0.901,"D":3.67,"m":"K0.5CO"},{"E":-0.88,"D":4.19,"m":"K0.5CO"},{"E":-0.87,"D":4.76,"m":"K0.5CO"},{"E":-0.854,"D":5.28,"m":"K0.5CO"},{"E":-0.838,"D":5.0,"m":"K0.5CO"},{"E":-0.817,"D":5.9,"m":"K0.5CO"},{"E":-0.797,"D":7.28,"m":"K0.5CO"},{"E":-0.786,"D":6.8,"m":"K0.5CO"},{"E":-0.771,"D":7.13,"m":"K0.5CO"},{"E":-0.749,"D":8.32,"m":"K0.5CO"},{"E":-0.739,"D":7.8,"m":"K0.5CO"},{"E":-0.734,"D":6.0,"m":"K0.5CO"},{"E":-0.723,"D":5.43,"m":"K0.5CO"},{"E":-0.707,"D":2.96,"m":"K0.5CO"},{"E":-0.702,"D":2.72,"m":"K0.5CO"},{"E":-0.692,"D":2.82,"m":"K0.5CO"},{"E":-0.671,"D":5.14,"m":"K0.5CO"},{"E":-0.666,"D":4.57,"m":"K0.5CO"},{"E":-0.652,"D":0.54,"m":"K0.5CO"},{"E":-0.629,"D":0.59,"m":"K0.5CO"},{"E":-0.608,"D":1.73,"m":"K0.5CO"},{"E":-0.592,"D":3.05,"m":"K0.5CO"},{"E":-0.577,"D":2.96,"m":"K0.5CO"},{"E":-0.556,"D":2.91,"m":"K0.5CO"},{"E":-0.545,"D":3.91,"m":"K0.5CO"},{"E":-0.535,"D":5.14,"m":"K0.5CO"},{"E":-0.524,"D":3.5,"m":"K0.5CO"},{"E":-0.514,"D":4.57,"m":"K0.5CO"},{"E":-0.503,"D":5.14,"m":"K0.5CO"},{"E":-0.493,"D":8.46,"m":"K0.5CO"},{"E":-0.486,"D":7.7,"m":"K0.5CO"},{"E":-0.477,"D":8.6,"m":"K0.5CO"},{"E":-0.467,"D":5.14,"m":"K0.5CO"},{"E":-0.451,"D":5.05,"m":"K0.5CO"},{"E":-0.435,"D":5.43,"m":"K0.5CO"},{"E":-0.43,"D":5.05,"m":"K0.5CO"},{"E":-0.42,"D":5.38,"m":"K0.5CO"},{"E":-0.41,"D":5.33,"m":"K0.5CO"},{"E":-0.404,"D":4.67,"m":"K0.5CO"},{"E":-0.394,"D":5.33,"m":"K0.5CO"},{"E":-0.383,"D":5.43,"m":"K0.5CO"},{"E":-0.373,"D":4.95,"m":"K0.5CO"},{"E":-0.357,"D":4.38,"m":"K0.5CO"},{"E":-0.341,"D":4.48,"m":"K0.5CO"},{"E":-0.331,"D":5.33,"m":"K0.5CO"},{"E":-0.322,"D":6.8,"m":"K0.5CO"},{"E":-0.315,"D":5.5,"m":"K0.5CO"},{"E":-0.31,"D":5.14,"m":"K0.5CO"},{"E":-0.294,"D":5.0,"m":"K0.5CO"},{"E":-0.284,"D":4.15,"m":"K0.5CO"},{"E":-0.268,"D":6.33,"m":"K0.5CO"},{"E":-0.257,"D":5.24,"m":"K0.5CO"},{"E":-0.242,"D":6.23,"m":"K0.5CO"},{"E":-0.231,"D":5.76,"m":"K0.5CO"},{"E":-0.216,"D":5.76,"m":"K0.5CO"},{"E":-0.2,"D":5.33,"m":"K0.5CO"},{"E":-0.184,"D":4.57,"m":"K0.5CO"},{"E":-0.169,"D":3.91,"m":"K0.5CO"},{"E":-0.153,"D":3.58,"m":"K0.5CO"},{"E":-0.142,"D":3.34,"m":"K0.5CO"},{"E":-0.127,"D":4.38,"m":"K0.5CO"},{"E":-0.111,"D":5.33,"m":"K0.5CO"},{"E":-0.1,"D":6.57,"m":"K0.5CO"},{"E":-0.09,"D":7.99,"m":"K0.5CO"},{"E":-0.079,"D":9.13,"m":"K0.5CO"},{"E":-0.072,"D":9.79,"m":"K0.5CO"},{"E":-0.062,"D":9.13,"m":"K0.5CO"},{"E":-0.056,"D":9.2,"m":"K0.5CO"},{"E":-0.045,"D":11.69,"m":"K0.5CO"},{"E":-0.032,"D":9.79,"m":"K0.5CO"},{"E":-0.022,"D":8.56,"m":"K0.5CO"},{"E":-0.012,"D":7.42,"m":"K0.5CO"},{"E":-0.001,"D":6.19,"m":"K0.5CO"},{"E":0.0094,"D":5.9,"m":"K0.5CO"},{"E":0.02,"D":4.38,"m":"K0.5CO"},{"E":0.03,"D":5.71,"m":"K0.5CO"},{"E":0.041,"D":4.95,"m":"K0.5CO"},{"E":0.0565,"D":4.29,"m":"K0.5CO"},{"E":0.072,"D":4.0,"m":"K0.5CO"},{"E":0.088,"D":3.34,"m":"K0.5CO"},{"E":0.104,"D":2.68,"m":"K0.5CO"},{"E":0.119,"D":1.73,"m":"K0.5CO"},{"E":0.13,"D":0.59,"m":"K0.5CO"},{"E":0.135,"D":0.0,"m":"K0.5CO"},
{"E":-1.268,"D":0.0,"m":"N0.5CO"},{"E":-1.163,"D":0.26,"m":"N0.5CO"},{"E":-1.132,"D":0.78,"m":"N0.5CO"},{"E":-1.1,"D":1.54,"m":"N0.5CO"},{"E":-1.085,"D":3.92,"m":"N0.5CO"},{"E":-1.074,"D":4.06,"m":"N0.5CO"},{"E":-1.063,"D":3.97,"m":"N0.5CO"},{"E":-1.048,"D":4.06,"m":"N0.5CO"},{"E":-1.027,"D":4.77,"m":"N0.5CO"},{"E":-1.015,"D":5.72,"m":"N0.5CO"},{"E":-1.006,"D":5.34,"m":"N0.5CO"},{"E":-0.985,"D":4.01,"m":"N0.5CO"},{"E":-0.97,"D":3.44,"m":"N0.5CO"},{"E":-0.949,"D":3.2,"m":"N0.5CO"},{"E":-0.933,"D":3.73,"m":"N0.5CO"},{"E":-0.902,"D":4.49,"m":"N0.5CO"},{"E":-0.881,"D":5.34,"m":"N0.5CO"},{"E":-0.868,"D":6.25,"m":"N0.5CO"},{"E":-0.854,"D":5.91,"m":"N0.5CO"},{"E":-0.841,"D":5.48,"m":"N0.5CO"},{"E":-0.823,"D":6.4,"m":"N0.5CO"},{"E":-0.807,"D":6.2,"m":"N0.5CO"},{"E":-0.791,"D":6.9,"m":"N0.5CO"},{"E":-0.775,"D":7.0,"m":"N0.5CO"},{"E":-0.757,"D":7.25,"m":"N0.5CO"},{"E":-0.745,"D":6.3,"m":"N0.5CO"},{"E":-0.734,"D":4.76,"m":"N0.5CO"},{"E":-0.718,"D":3.24,"m":"N0.5CO"},{"E":-0.702,"D":2.72,"m":"N0.5CO"},{"E":-0.692,"D":2.9,"m":"N0.5CO"},{"E":-0.683,"D":4.1,"m":"N0.5CO"},{"E":-0.675,"D":3.6,"m":"N0.5CO"},{"E":-0.66,"D":1.54,"m":"N0.5CO"},{"E":-0.652,"D":1.25,"m":"N0.5CO"},{"E":-0.64,"D":1.63,"m":"N0.5CO"},{"E":-0.624,"D":2.96,"m":"N0.5CO"},{"E":-0.613,"D":3.24,"m":"N0.5CO"},{"E":-0.597,"D":2.87,"m":"N0.5CO"},{"E":-0.582,"D":3.43,"m":"N0.5CO"},{"E":-0.561,"D":4.48,"m":"N0.5CO"},{"E":-0.545,"D":3.53,"m":"N0.5CO"},{"E":-0.53,"D":4.19,"m":"N0.5CO"},{"E":-0.519,"D":5.33,"m":"N0.5CO"},{"E":-0.505,"D":8.08,"m":"N0.5CO"},{"E":-0.498,"D":7.04,"m":"N0.5CO"},{"E":-0.488,"D":5.33,"m":"N0.5CO"},{"E":-0.467,"D":4.76,"m":"N0.5CO"},{"E":-0.451,"D":5.14,"m":"N0.5CO"},{"E":-0.435,"D":4.95,"m":"N0.5CO"},{"E":-0.414,"D":5.05,"m":"N0.5CO"},{"E":-0.398,"D":4.9,"m":"N0.5CO"},{"E":-0.377,"D":4.76,"m":"N0.5CO"},{"E":-0.362,"D":4.0,"m":"N0.5CO"},{"E":-0.346,"D":4.29,"m":"N0.5CO"},{"E":-0.325,"D":6.38,"m":"N0.5CO"},{"E":-0.315,"D":5.0,"m":"N0.5CO"},{"E":-0.305,"D":4.67,"m":"N0.5CO"},{"E":-0.289,"D":5.0,"m":"N0.5CO"},{"E":-0.268,"D":5.9,"m":"N0.5CO"},{"E":-0.252,"D":5.19,"m":"N0.5CO"},{"E":-0.231,"D":5.52,"m":"N0.5CO"},{"E":-0.21,"D":5.43,"m":"N0.5CO"},{"E":-0.189,"D":4.76,"m":"N0.5CO"},{"E":-0.168,"D":3.72,"m":"N0.5CO"},{"E":-0.153,"D":3.58,"m":"N0.5CO"},{"E":-0.137,"D":3.81,"m":"N0.5CO"},{"E":-0.121,"D":5.33,"m":"N0.5CO"},{"E":-0.106,"D":6.66,"m":"N0.5CO"},{"E":-0.093,"D":8.08,"m":"N0.5CO"},{"E":-0.083,"D":10.22,"m":"N0.5CO"},{"E":-0.074,"D":8.75,"m":"N0.5CO"},{"E":-0.059,"D":8.7,"m":"N0.5CO"},{"E":-0.043,"D":8.94,"m":"N0.5CO"},{"E":-0.022,"D":7.7,"m":"N0.5CO"},{"E":-0.006,"D":6.47,"m":"N0.5CO"},{"E":0.004,"D":5.33,"m":"N0.5CO"},{"E":0.02,"D":4.19,"m":"N0.5CO"},{"E":0.035,"D":3.62,"m":"N0.5CO"},{"E":0.051,"D":3.24,"m":"N0.5CO"},{"E":0.062,"D":3.3,"m":"N0.5CO"},{"E":0.083,"D":2.96,"m":"N0.5CO"},{"E":0.104,"D":2.58,"m":"N0.5CO"},{"E":0.125,"D":2.11,"m":"N0.5CO"},{"E":0.146,"D":1.44,"m":"N0.5CO"},{"E":0.167,"D":0.59,"m":"N0.5CO"},{"E":0.179,"D":0.0,"m":"N0.5CO"}
]
},
"vconcat": [
{
  "width": 497, "height": 348,
  "resolve": {"axis": {"y": "independent"}},
  "layer": [
    {
      "data": {"name": "bands"},
      "mark": {"type": "line", "interpolate": "monotone", "strokeWidth": 1.6, "clip": true},
      "encoding": {
        "x": {"field": "k", "type": "quantitative", "scale": {"domain": [0, 497], "nice": false, "zero": false},
              "axis": {"values": [0, 104, 208.5, 329.5, 449.5, 497], "labelExpr": "datum.value == 0 || datum.value == 449.5 ? 'Γ' : datum.value == 104 ? 'X' : datum.value == 208.5 ? 'S' : datum.value == 329.5 ? 'Y' : 'Z'", "labelAlign": {"condition": {"test": "datum.value == 497", "value": "right"}, "value": "center"}, "labelOffset": {"condition": {"test": "datum.value == 497", "value": 4}, "value": 0}, "ticks": false, "labelPadding": 4, "labelFontSize": 23, "labelOverlap": false, "labelFlush": false, "title": null}},
        "y": {"field": "E", "type": "quantitative", "scale": {"domain": [-0.158, 0.2], "nice": false, "zero": false},
              "axis": {"orient": "left", "values": [-0.1, 0, 0.1, 0.2], "labelExpr": "datum.value == 0 ? '0' : replace(format(datum.value, '.1f'), '−', '-')", "ticks": false, "labelPadding": 5, "labelFontSize": 19, "labelOverlap": false, "title": "E - EF (eV)", "titleFontSize": 20, "titlePadding": 13}},
        "color": {"field": "m", "type": "nominal", "scale": {"domain": ["K0.5CO", "N0.5CO"], "range": ["black", "#ff00ff"]},
                  "legend": {"orient": "none", "legendX": 188, "legendY": 23, "title": null, "strokeColor": "black", "fillColor": "white", "padding": 7, "symbolType": "stroke", "symbolSize": 700, "symbolStrokeWidth": 1.6, "labelFont": "Liberation Serif", "labelFontWeight": "bold", "labelFontSize": 20, "labelColor": "black", "labelOffset": 12, "rowPadding": -3, "labelExpr": "datum.value == 'K0.5CO' ? 'K₀.₅CO' : 'N₀.₅CO'"}},
        "strokeDash": {"field": "m", "type": "nominal", "scale": {"domain": ["K0.5CO", "N0.5CO"], "range": [[1, 0], [8, 5]]},
                  "legend": {"orient": "none", "legendX": 188, "legendY": 23, "title": null, "strokeColor": "black", "fillColor": "white", "padding": 7, "symbolType": "stroke", "symbolSize": 700, "symbolStrokeWidth": 1.6, "labelFont": "Liberation Serif", "labelFontWeight": "bold", "labelFontSize": 20, "labelColor": "black", "labelOffset": 12, "rowPadding": -3, "labelExpr": "datum.value == 'K0.5CO' ? 'K₀.₅CO' : 'N₀.₅CO'"}},
        "detail": {"field": "b", "type": "nominal"}
      }
    },
    {
      "data": {"name": "bands"},
      "transform": [{"filter": "test(/_s$/, datum.b)"}],
      "mark": {"type": "line", "interpolate": "monotone", "strokeWidth": 1.6, "color": "#ff00ff", "clip": true},
      "encoding": {
        "x": {"field": "k", "type": "quantitative"},
        "y": {"field": "E", "type": "quantitative", "axis": null},
        "detail": {"field": "b", "type": "nominal"}
      }
    },
    {
      "data": {"values": [{"k": 0, "E": 0}, {"k": 497, "E": 0}]},
      "mark": {"type": "line", "color": "#0000ff", "strokeWidth": 1.5, "strokeDash": [7, 4]},
      "encoding": {"x": {"field": "k", "type": "quantitative"}, "y": {"field": "E", "type": "quantitative", "axis": null}}
    },
    {
      "data": {"values": [{"k": 104, "lo": -0.158, "hi": 0.2}, {"k": 208.5, "lo": -0.158, "hi": 0.2}, {"k": 329.5, "lo": -0.158, "hi": 0.2}, {"k": 449.5, "lo": -0.158, "hi": 0.2}]},
      "mark": {"type": "rule", "color": "black", "strokeWidth": 1},
      "encoding": {"x": {"field": "k", "type": "quantitative"}, "y": {"field": "lo", "type": "quantitative", "axis": null}, "y2": {"field": "hi"}}
    }
  ]
},
{"hconcat": [
{
  "width": 1, "height": 422,
  "view": {"stroke": null},
  "data": {"values": [{"a": 0}]},
  "mark": {"type": "point", "opacity": 0},
  "encoding": {}
},
{
  "width": 480, "height": 422,
  "resolve": {"axis": {"x": "independent", "y": "independent"}},
  "layer": [
    {
      "data": {"name": "dos"},
      "mark": {"type": "line", "strokeWidth": 2, "clip": true},
      "encoding": {
        "x": {"field": "E", "type": "quantitative", "scale": {"domain": [-1.3, 0.2], "nice": false, "zero": false},
              "axis": {"orient": "bottom", "values": [-1, -0.5, 0], "labelExpr": "format(datum.value, '~g')", "ticks": false, "labelPadding": 14, "labelFontSize": 25, "labelOverlap": false, "labelFlush": false, "title": "E − EF (eV)", "titleFontSize": 30, "titlePadding": 8}},
        "y": {"field": "D", "type": "quantitative", "scale": {"domain": [0, 12], "nice": false, "zero": false},
              "axis": {"orient": "left", "values": [0, 5, 10], "ticks": false, "labelPadding": 19, "labelFontSize": 26, "labelOverlap": false, "title": "DOS (#/eV−f.u.)", "titleFontSize": 30, "titlePadding": 14}},
        "color": {"field": "m", "type": "nominal", "scale": {"domain": ["K0.5CO", "N0.5CO"], "range": ["black", "#e8141c"]},
                  "legend": {"orient": "none", "legendX": 46, "legendY": 3, "title": null, "padding": 0, "symbolType": "stroke", "symbolSize": 3300, "symbolStrokeWidth": 2, "labelFont": "Liberation Serif", "labelFontWeight": "bold", "labelFontSize": 27.5, "labelColor": "black", "labelOffset": 19, "rowPadding": -40, "labelExpr": "datum.value == 'K0.5CO' ? 'K₀.₅CO' : 'N₀.₅CO'"}},
        "strokeDash": {"field": "m", "type": "nominal", "scale": {"domain": ["K0.5CO", "N0.5CO"], "range": [[1, 0], [9, 5]]},
                  "legend": {"orient": "none", "legendX": 46, "legendY": 3, "title": null, "padding": 0, "symbolType": "stroke", "symbolSize": 3300, "symbolStrokeWidth": 2, "labelFont": "Liberation Serif", "labelFontWeight": "bold", "labelFontSize": 27.5, "labelColor": "black", "labelOffset": 19, "rowPadding": -40, "labelExpr": "datum.value == 'K0.5CO' ? 'K₀.₅CO' : 'N₀.₅CO'"}}
      }
    },
    {
      "data": {"values": [{"E": 0, "lo": 0, "hi": 12}]},
      "mark": {"type": "rule", "color": "#22cc22", "strokeWidth": 1.5, "strokeDash": [7, 4]},
      "encoding": {"x": {"field": "E", "type": "quantitative", "axis": null}, "y": {"field": "lo", "type": "quantitative", "axis": null}, "y2": {"field": "hi"}}
    }
  ]
}
], "spacing": -70}
]
}
